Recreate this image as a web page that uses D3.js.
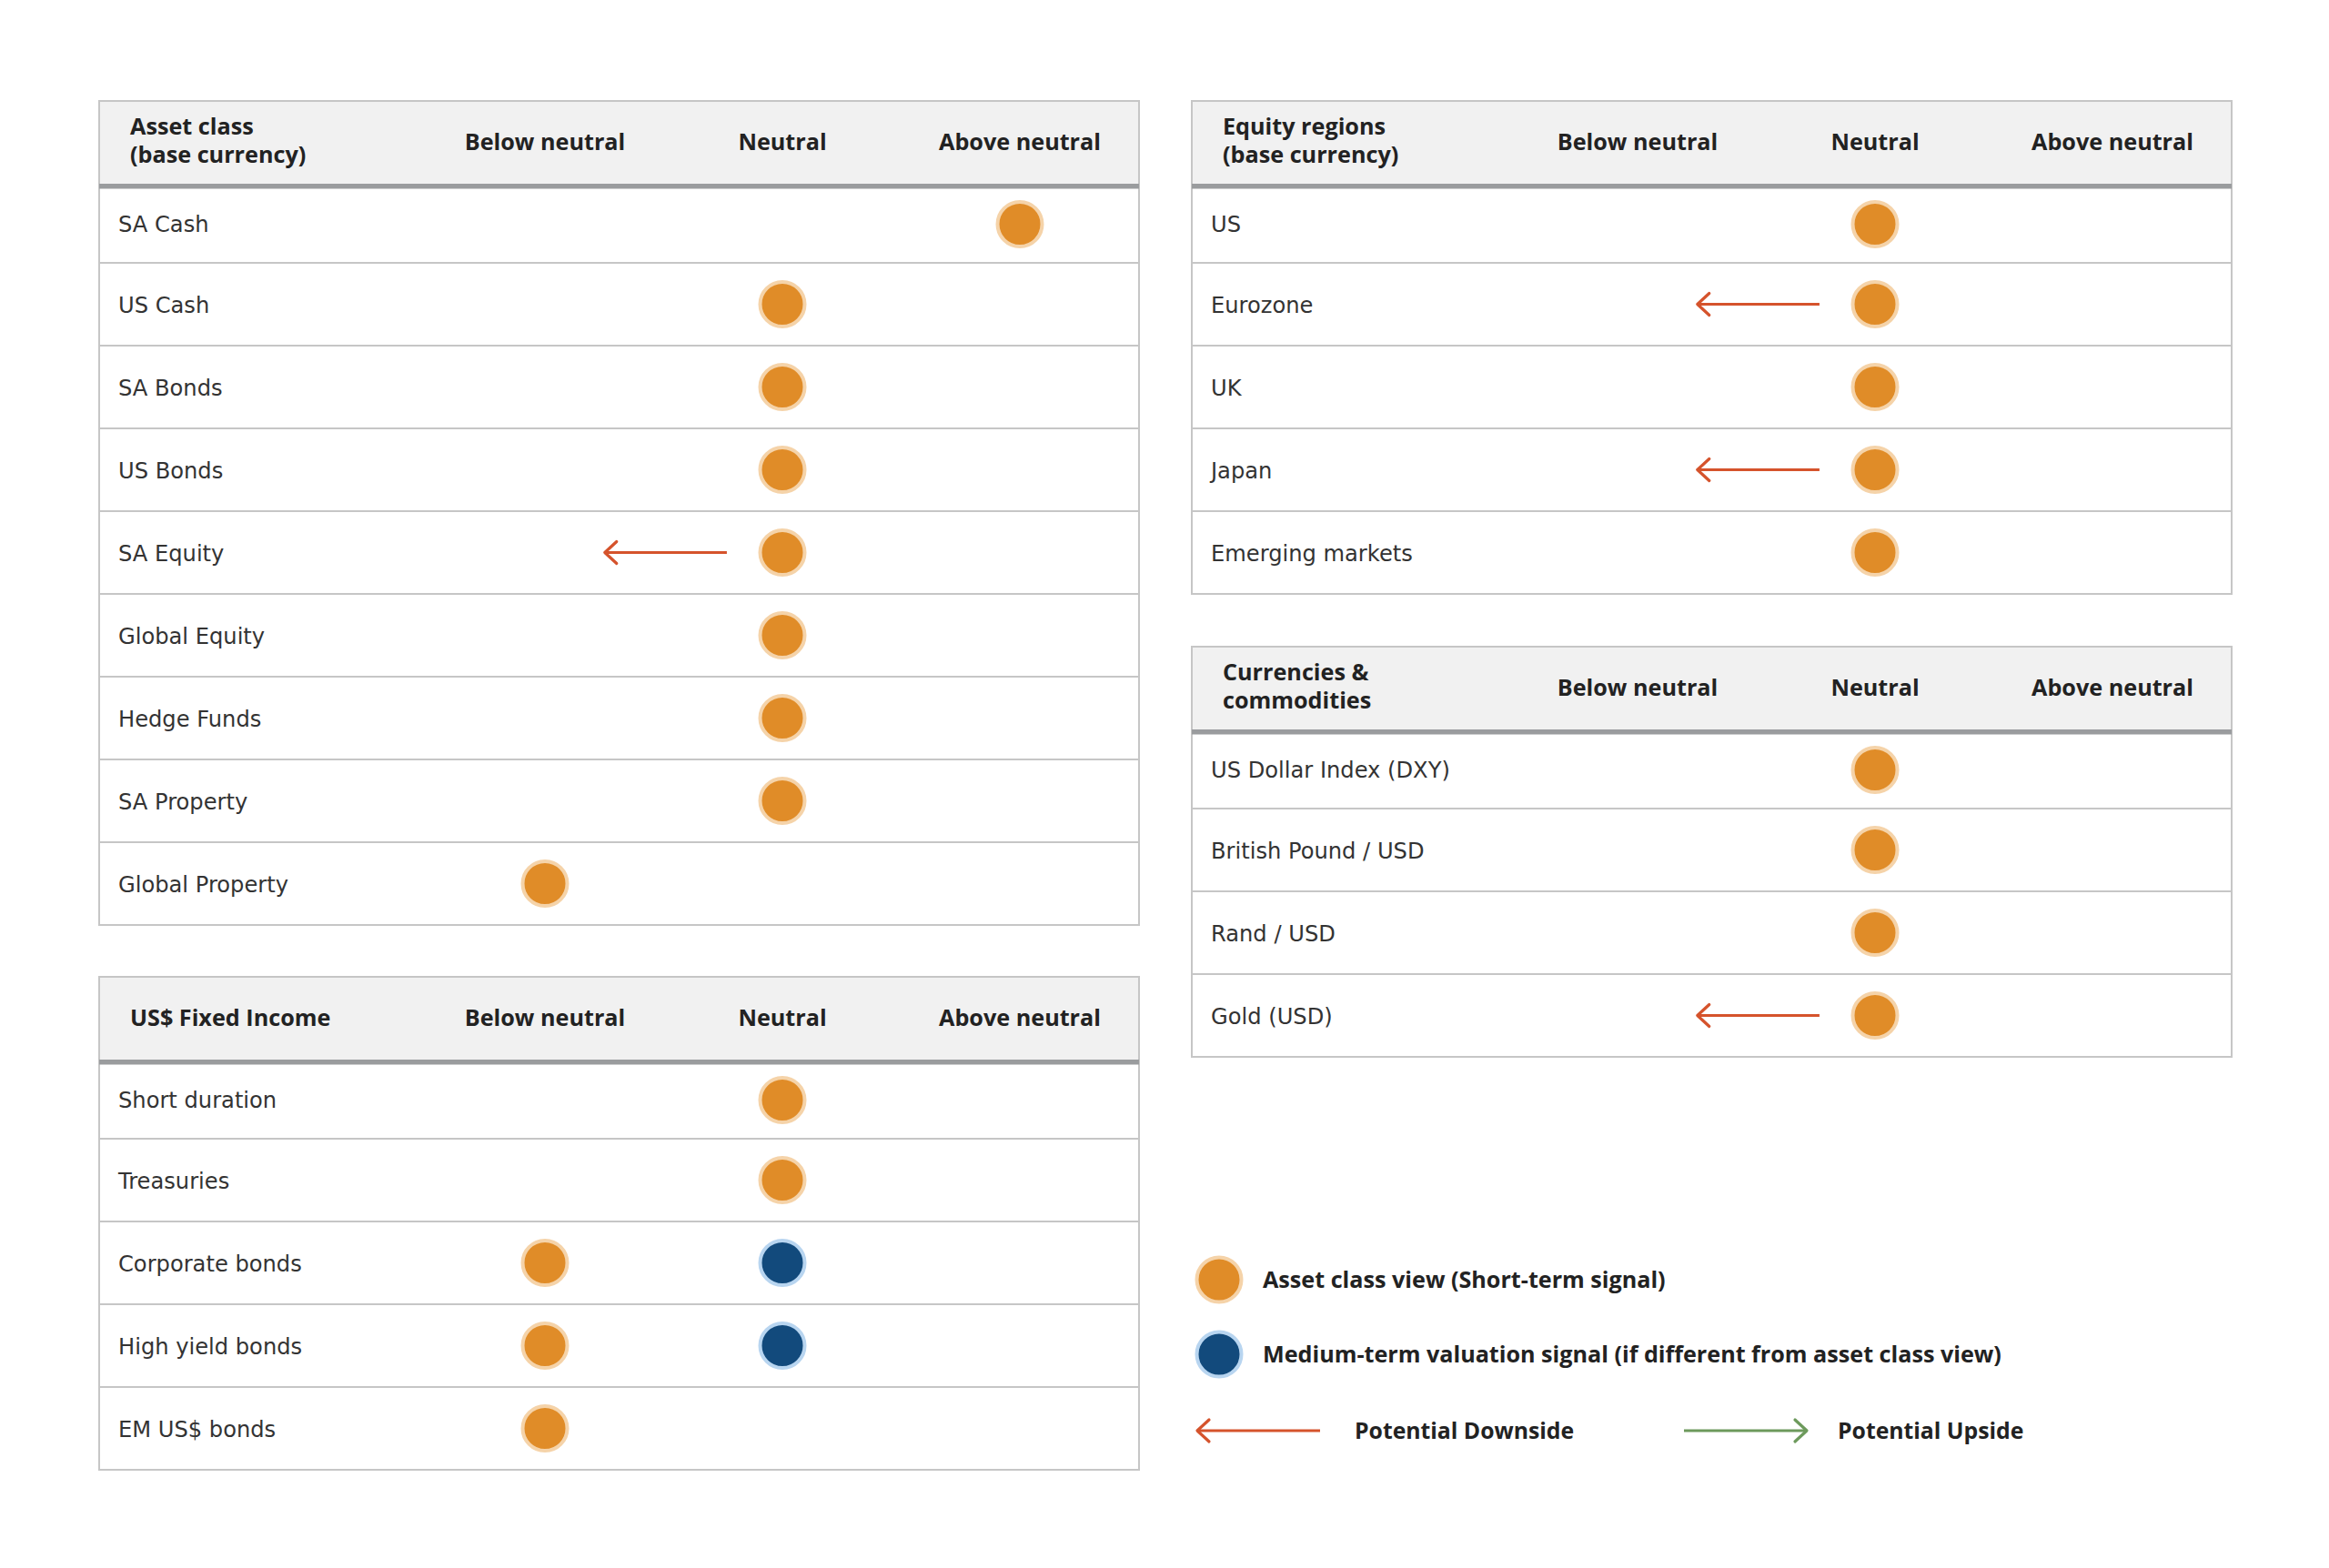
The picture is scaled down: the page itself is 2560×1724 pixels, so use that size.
<!DOCTYPE html>
<html>
<head>
<meta charset="utf-8">
<script src="https://cdn.jsdelivr.net/npm/d3@7/dist/d3.min.js"></script>
<style>
  html, body { margin: 0; padding: 0; background: #ffffff; }
  svg { display: block; }
  text { font-family: "DejaVu Sans", "Noto Sans", sans-serif; }
  text.b { font-family: "Open Sans", "DejaVu Sans", sans-serif; font-weight: bold; }
</style>
</head>
<body>
<svg id="chart" width="2560" height="1724"></svg>
<script>
// ---------------- DATA ----------------
const columns = ["Below neutral", "Neutral", "Above neutral"];

const assetClassTitle = ["Asset class", "(base currency)"];
const assetClasses = ["SA Cash", "US Cash", "SA Bonds", "US Bonds", "SA Equity",
  "Global Equity", "Hedge Funds", "SA Property", "Global Property"];
const assetClassView = ["Above neutral", "Neutral", "Neutral", "Neutral", "Neutral",
  "Neutral", "Neutral", "Neutral", "Below neutral"];
const assetClassMedium = [null, null, null, null, null, null, null, null, null];
const assetClassOutlook = ["", "", "", "", "Downside", "", "", "", ""];

const fixedIncomeTitle = ["US$ Fixed Income"];
const fixedIncome = ["Short duration", "Treasuries", "Corporate bonds", "High yield bonds", "EM US$ bonds"];
const fixedIncomeView = ["Neutral", "Neutral", "Below neutral", "Below neutral", "Below neutral"];
const fixedIncomeMedium = [null, null, "Neutral", "Neutral", null];
const fixedIncomeOutlook = ["", "", "", "", ""];

const equityTitle = ["Equity regions", "(base currency)"];
const equityRegions = ["US", "Eurozone", "UK", "Japan", "Emerging markets"];
const equityView = ["Neutral", "Neutral", "Neutral", "Neutral", "Neutral"];
const equityMedium = [null, null, null, null, null];
const equityOutlook = ["", "Downside", "", "Downside", ""];

const currencyTitle = ["Currencies &", "commodities"];
const currencies = ["US Dollar Index (DXY)", "British Pound / USD", "Rand / USD", "Gold (USD)"];
const currencyView = ["Neutral", "Neutral", "Neutral", "Neutral"];
const currencyMedium = [null, null, null, null];
const currencyOutlook = ["", "", "", "Downside"];

const legendSignals = ["Asset class view (Short-term signal)",
  "Medium-term valuation signal (if different from asset class view)"];
const legendArrows = ["Potential Downside", "Potential Upside"];

// ---------------- STYLE / LAYOUT ----------------
const C = {
  orange: "#e08c28", orangeHalo: "#f5d3a9",
  blue: "#124a7c", blueHalo: "#b8d5f0",
  down: "#d5532c", up: "#6d9a5c",
  headerBg: "#f1f1f1", thick: "#9a9c9e", border: "#c6c6c6",
  headText: "#222222", bodyText: "#333333"
};
const TW = 1143, HEAD = 87, ROW = 91;

const svg = d3.select("#chart");
svg.append("rect").attr("width", 2560).attr("height", 1724).attr("fill", "#fff");

// font size that makes a sample string as wide as in the reference
function fitSize(cls, sample, target) {
  const t = svg.append("text").attr("class", cls).attr("font-size", 100).text(sample);
  const w = t.node().getComputedTextLength();
  t.remove();
  return 100 * target / w;
}
const headSize = fitSize("b", "Above neutral", 178);
const legendSize = fitSize("b", legendSignals[1], 812);
const bodySize = fitSize("r", "US Dollar Index (DXY)", 263);

function drawTable(cfg) {
  const n = cfg.rows.length;
  const g = svg.append("g").attr("transform", `translate(${cfg.x},${cfg.y})`);
  const H = HEAD + n * ROW;
  const x = d3.scaleBand().domain(columns).range([359.5, TW - 0.5]);
  const y = d3.scaleBand().domain(cfg.rows).range([HEAD, H]);
  const cx = c => x(c) + x.bandwidth() / 2;
  const cy = (r, i) => y(r) + y.bandwidth() / 2 + (i === 0 ? 3 : 0);

  g.append("rect").attr("x", 0).attr("y", 0).attr("width", TW).attr("height", H)
    .attr("fill", "#fff");
  g.append("rect").attr("x", 0).attr("y", 0).attr("width", TW).attr("height", 91)
    .attr("fill", C.headerBg);
  g.selectAll("line.sep").data(cfg.rows.slice(1)).join("line")
    .attr("x1", 0).attr("x2", TW)
    .attr("y1", d => y(d)).attr("y2", d => y(d))
    .attr("stroke", C.border).attr("stroke-width", 2);
  g.append("rect").attr("x", 0).attr("y", 0).attr("width", TW).attr("height", H)
    .attr("fill", "none").attr("stroke", C.border).attr("stroke-width", 2);
  g.append("rect").attr("x", 0).attr("y", 91).attr("width", TW).attr("height", 5.5)
    .attr("fill", C.thick);

  const tl = cfg.title.length;
  const t = g.append("text").attr("class", "b").attr("x", 34).attr("fill", C.headText)
    .attr("font-size", headSize);
  cfg.title.forEach((s, i) => {
    t.append("tspan").attr("x", 34)
      .attr("y", tl === 1 ? 54 : 37 + i * 31).text(s);
  });
  g.selectAll("text.col").data(columns).join("text")
    .attr("class", "b")
    .attr("x", d => cx(d)).attr("y", 54)
    .attr("text-anchor", "middle").attr("fill", C.headText)
    .attr("font-size", headSize).text(d => d);

  g.selectAll("text.row").data(cfg.rows).join("text")
    .attr("class", "r")
    .attr("x", 21).attr("y", (d, i) => y(d) + y.bandwidth() / 2 + (i === 0 ? 1.5 : 0) + 9.5)
    .attr("fill", C.bodyText).attr("font-size", bodySize).text(d => d);

  const step = x.step();
  cfg.rows.forEach((r, i) => {
    const o = cfg.outlook[i];
    if (!o) return;
    const dir = o === "Downside" ? -1 : 1;
    const v = cfg.view[i];
    const x0 = cx(v) + dir * 0.234 * step;
    const x1 = cx(v) + dir * 0.748 * step;
    const col = dir < 0 ? C.down : C.up;
    const yy = cy(r, i);
    g.append("line").attr("x1", x0).attr("x2", x1)
      .attr("y1", yy).attr("y2", yy)
      .attr("stroke", col).attr("stroke-width", 3.2);
    g.append("path")
      .attr("d", `M${x1 - dir * 13},${yy - 12} L${x1},${yy} L${x1 - dir * 13},${yy + 12}`)
      .attr("fill", "none").attr("stroke", col).attr("stroke-width", 3.2)
      .attr("stroke-linecap", "round").attr("stroke-linejoin", "round");
  });

  g.selectAll("circle.view").data(cfg.rows).join("circle")
    .attr("cx", (d, i) => cx(cfg.view[i])).attr("cy", (d, i) => cy(d, i))
    .attr("r", 24.5).attr("fill", C.orange)
    .attr("stroke", C.orangeHalo).attr("stroke-width", 4);
  const med = cfg.rows.map((r, i) => ({ r, i, m: cfg.medium[i] })).filter(d => d.m);
  g.selectAll("circle.med").data(med).join("circle")
    .attr("cx", d => cx(d.m)).attr("cy", d => cy(d.r, d.i))
    .attr("r", 24.5).attr("fill", C.blue)
    .attr("stroke", C.blueHalo).attr("stroke-width", 4);
}

drawTable({ x: 109, y: 111, title: assetClassTitle, rows: assetClasses,
  view: assetClassView, medium: assetClassMedium, outlook: assetClassOutlook });
drawTable({ x: 109, y: 1074, title: fixedIncomeTitle, rows: fixedIncome,
  view: fixedIncomeView, medium: fixedIncomeMedium, outlook: fixedIncomeOutlook });
drawTable({ x: 1310, y: 111, title: equityTitle, rows: equityRegions,
  view: equityView, medium: equityMedium, outlook: equityOutlook });
drawTable({ x: 1310, y: 711, title: currencyTitle, rows: currencies,
  view: currencyView, medium: currencyMedium, outlook: currencyOutlook });

// ---------------- LEGEND ----------------
const lg = svg.append("g");
const ly = d3.scalePoint().domain(legendSignals).range([1407, 1489]);
lg.selectAll("circle").data(legendSignals).join("circle")
  .attr("cx", 1340).attr("cy", d => ly(d)).attr("r", 24.5)
  .attr("fill", (d, i) => i === 0 ? C.orange : C.blue)
  .attr("stroke", (d, i) => i === 0 ? C.orangeHalo : C.blueHalo)
  .attr("stroke-width", 4);
lg.selectAll("text.sig").data(legendSignals).join("text")
  .attr("class", "b")
  .attr("x", 1388).attr("y", d => ly(d) + 9)
  .attr("font-size", legendSize).attr("fill", C.headText)
  .text(d => d);

const ax = d3.scalePoint().domain(legendArrows).range([1316, 1851]);
const arrowY = 1573;
legendArrows.forEach((d, i) => {
  const dir = i === 0 ? -1 : 1;
  const col = dir < 0 ? C.down : C.up;
  const a = ax(d), b = a + 135;
  const tip = dir < 0 ? a : b;
  lg.append("line").attr("x1", a).attr("x2", b).attr("y1", arrowY).attr("y2", arrowY)
    .attr("stroke", col).attr("stroke-width", 3.2);
  lg.append("path")
    .attr("d", `M${tip - dir * 13},${arrowY - 12} L${tip},${arrowY} L${tip - dir * 13},${arrowY + 12}`)
    .attr("fill", "none").attr("stroke", col).attr("stroke-width", 3.2)
    .attr("stroke-linecap", "round").attr("stroke-linejoin", "round");
  lg.append("text").attr("class", "b").attr("x", b + (i === 0 ? 38 : 34)).attr("y", arrowY + 9)
    .attr("font-size", legendSize * 0.985).attr("fill", C.headText)
    .text(d);
});
</script>
</body>
</html>
